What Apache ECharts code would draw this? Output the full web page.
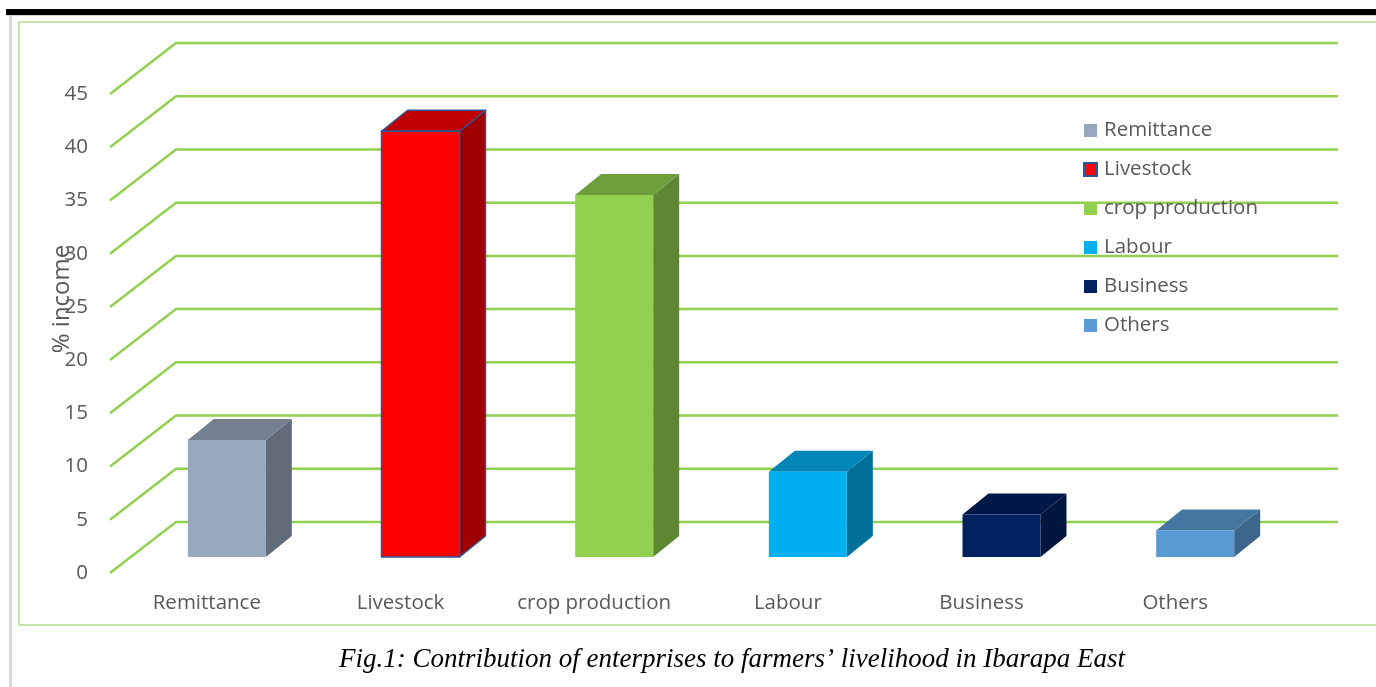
<!DOCTYPE html>
<html>
<head>
<meta charset="utf-8">
<script src="https://cdn.jsdelivr.net/npm/echarts@6/dist/echarts.min.js"></script>
<style>
html,body{margin:0;padding:0;background:#fff;}
#chart{width:1376px;height:687px;}
</style>
</head>
<body>
<div id="chart"></div>
<script>
// ---- data ----
var categories = ['Remittance', 'Livestock', 'crop production', 'Labour', 'Business', 'Others'];
var values = [11, 40, 34, 8, 4, 2.5];
var yTicks = [0, 5, 10, 15, 20, 25, 30, 35, 40, 45];
var frontColors = ['#97A7BE', '#FF0000', '#92D050', '#00B0F0', '#002060', '#5B9BD5'];
var topColors = ['#74808F', '#C00000', '#6E9E3C', '#0086B6', '#001848', '#4576A2'];
var sideColors = ['#616B7A', '#A00000', '#5E8633', '#00709A', '#00163F', '#3C668C'];

var DX = 66, DY = -51;        // floor/wall depth
var BDX = 26, BDY = -21;      // bar depth
var BAR_OFF_X = 20, BAR_HALF = 39, BAR_OFF_Y = -16;

var chart = echarts.init(document.getElementById('chart'));

var series = [];
// grid lines (wall + floor diagonals)
series.push({
  type: 'custom',
  name: '_grid',
  silent: true,
  clip: false,
  z: 1,
  data: yTicks.map(function (t) { return [0, t]; }),
  renderItem: function (params, api) {
    var cs = params.coordSys;
    var p = api.coord([0, api.value(1)]);
    var x0 = cs.x;
    var y = p[1];
    return {
      type: 'polyline',
      shape: { points: [[x0, y], [x0 + DX, y + DY], [cs.x + cs.width + DX, y + DY]] },
      style: { stroke: '#92D050', lineWidth: 2.5, fill: null }
    };
  }
});

categories.forEach(function (name, i) {
  var border = i === 1 ? { stroke: '#2F5597', lineWidth: 1.5 } : { stroke: null };
  series.push({
    type: 'custom',
    name: name,
    clip: false,
    z: 3,
    itemStyle: i === 1 ? { color: frontColors[i], borderColor: '#2F5597', borderWidth: 1.5 } : { color: frontColors[i] },
    data: [[i, values[i]]],
    renderItem: function (params, api) {
      var p0 = api.coord([api.value(0), 0]);
      var p1 = api.coord([api.value(0), api.value(1)]);
      var l = p0[0] + BAR_OFF_X - BAR_HALF;
      var r = p0[0] + BAR_OFF_X + BAR_HALF;
      var b = p0[1] + BAR_OFF_Y;
      var t = p1[1] + BAR_OFF_Y;
      function st(fill) {
        var s = { fill: fill, lineJoin: 'round' };
        if (border.stroke) { s.stroke = border.stroke; s.lineWidth = border.lineWidth; }
        return s;
      }
      return {
        type: 'group',
        children: [
          { type: 'polygon', shape: { points: [[r, b], [r + BDX, b + BDY], [r + BDX, t + BDY], [r, t]] }, style: st(sideColors[i]) },
          { type: 'polygon', shape: { points: [[l, t], [r, t], [r + BDX, t + BDY], [l + BDX, t + BDY]] }, style: st(topColors[i]) },
          { type: 'rect', shape: { x: l, y: t, width: r - l, height: b - t }, style: st(frontColors[i]) }
        ]
      };
    }
  });
});

var option = {
  animation: false,
  grid: { left: 110, right: 104, top: 94, bottom: 114 },
  xAxis: {
    type: 'category',
    data: categories,
    axisLine: { show: false },
    axisTick: { show: false },
    axisLabel: { color: '#595959', fontSize: 20.5, fontFamily: 'Open Sans', margin: 20, interval: 0 }
  },
  yAxis: {
    type: 'value',
    min: 0, max: 45, interval: 5,
    axisLine: { show: false },
    axisTick: { show: false },
    splitLine: { show: false },
    axisLabel: { color: '#595959', fontSize: 20.5, fontFamily: 'Open Sans', margin: 22 }
  },
  legend: {
    orient: 'vertical',
    left: 1078,
    top: 115,
    icon: 'rect',
    itemWidth: 13,
    itemHeight: 13,
    itemGap: 18,
    data: categories,
    textStyle: { color: '#595959', fontSize: 20.5, fontFamily: 'Open Sans', lineHeight: 21, padding: [0, 0, 0, 2] }
  },
  graphic: [
    { type: 'rect', z: 0, shape: { x: 6, y: 9, width: 1370, height: 6 }, style: { fill: '#000' } },
    { type: 'rect', z: 0, shape: { x: 6, y: 15, width: 1370, height: 1 }, style: { fill: '#d9d9d9' } },
    { type: 'rect', z: 0, shape: { x: 9, y: 15, width: 3, height: 672 }, style: { fill: '#d9d9d9' } },
    { type: 'rect', z: 0, shape: { x: 19, y: 22, width: 1370, height: 603 }, style: { fill: null, stroke: '#C5E4AA', lineWidth: 2 } },
    { type: 'text', z: 10, x: 62, y: 299, rotation: Math.PI / 2,
      style: { text: '% income', fill: '#595959', font: '24px "Open Sans"', textAlign: 'center', textVerticalAlign: 'middle' } },
    { type: 'text', z: 10, x: 732, y: 660,
      style: { text: 'Fig.1: Contribution of enterprises to farmers\u2019 livelihood in Ibarapa East', fill: '#000', font: 'italic 27px "Liberation Serif"', textAlign: 'center', textVerticalAlign: 'middle' } }
  ],
  series: series
};
chart.setOption(option);
</script>
</body>
</html>
